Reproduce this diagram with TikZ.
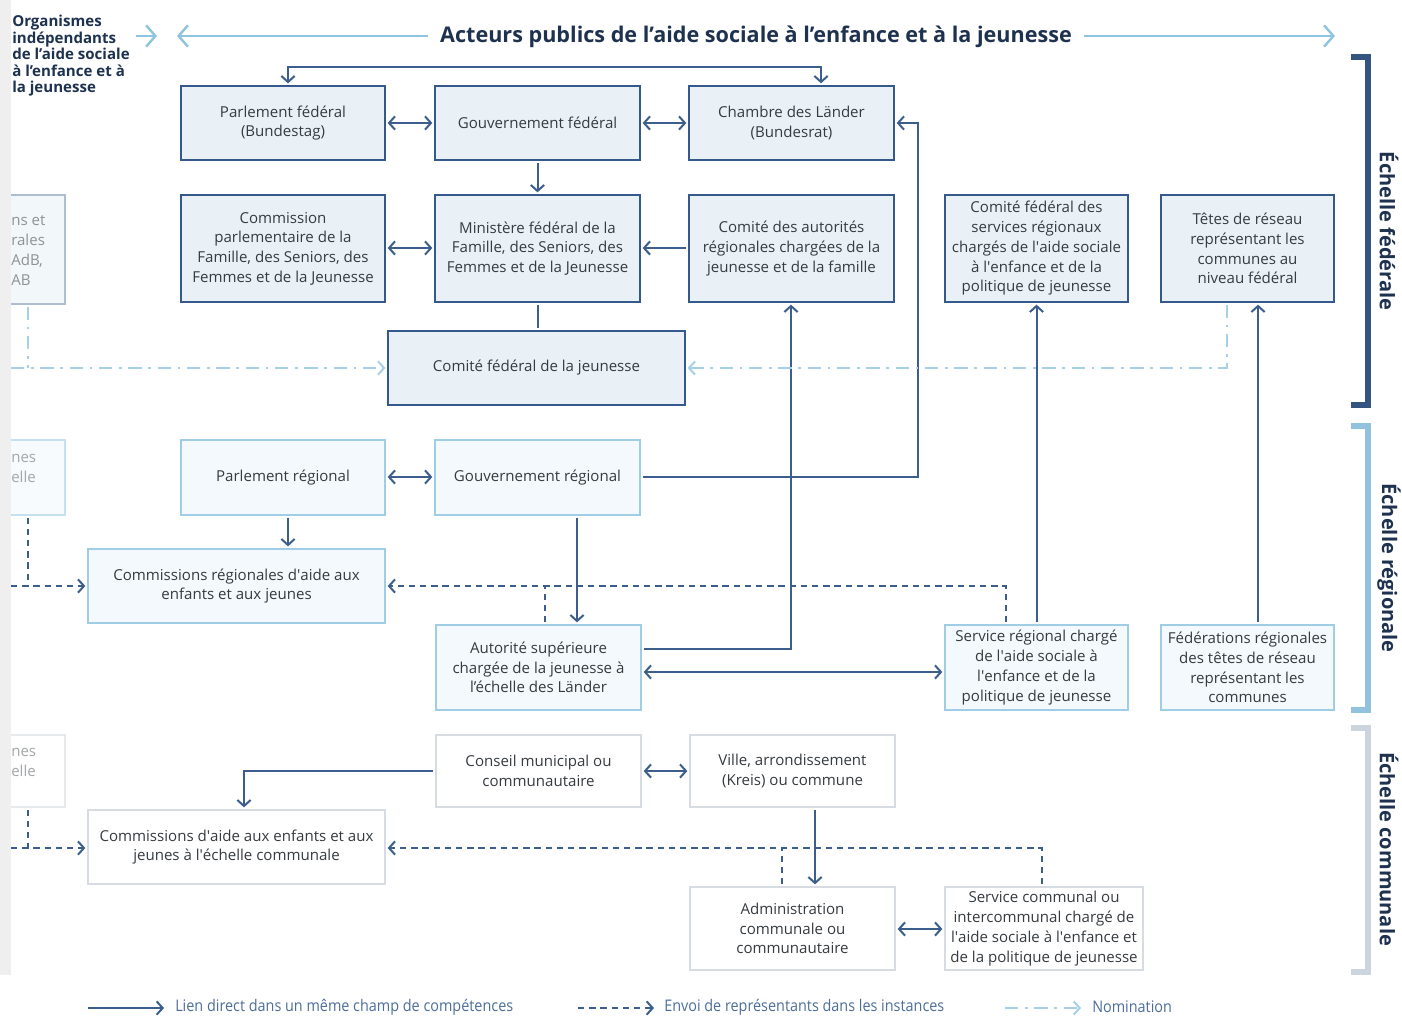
\documentclass[tikz,border=0pt]{standalone}
\usepackage{fontspec}
\setmainfont{Open Sans}
\newfontfamily\condfont[FakeStretch=0.9]{Open Sans}
\usetikzlibrary{arrows.meta,calc}
\definecolor{lineblue}{HTML}{3B5E8C}
\definecolor{fedline}{HTML}{34598A}
\definecolor{fedfill}{HTML}{EAF1F6}
\definecolor{regline}{HTML}{9FCDE6}
\definecolor{regfill}{HTML}{F3F9FD}
\definecolor{comline}{HTML}{D6DCE1}
\definecolor{boxtext}{HTML}{363B40}
\definecolor{titlecol}{HTML}{1E3250}
\definecolor{nomblue}{HTML}{A6D0E6}
\definecolor{hdrblue}{HTML}{8EC4DF}
\definecolor{brfed}{HTML}{34557F}
\definecolor{brreg}{HTML}{92C3DE}
\definecolor{brcom}{HTML}{CCD5DD}
\definecolor{legtext}{HTML}{4D6E99}
\definecolor{stripgray}{HTML}{EFEFEF}
\newcommand\aps{\textquotesingle}
\newcommand\bx[7]{\node[#2, minimum width={(#5-#3)*0.75pt}, minimum height={(#6-#4)*0.75pt}] (#1) at ({(#3+#5)/2},{(#4+#6)/2}) {#7};}
\tikzset{
  box/.style={draw, line width=1.5pt, align=center, inner sep=0pt, outer sep=2pt, text=boxtext, font=\fontsize{11.3}{14.8}\selectfont},
  fed/.style={box, draw=fedline, fill=fedfill},
  reg/.style={box, draw=regline, fill=regfill},
  com/.style={box, draw=comline, fill=white},
  sol/.style={draw=lineblue, line width=1.5pt},
  dsh/.style={draw=lineblue, line width=1.5pt, dash pattern=on 4.8pt off 3.6pt},
  ddot/.style={draw=nomblue, line width=1.5pt, dash pattern=on 10pt off 5pt on 2pt off 5pt},
  hdr/.style={draw=hdrblue, line width=1.8pt, >={Straight Barb[length=7pt,width=16pt]}},
  frag/.style={anchor=west, align=left, inner sep=0pt, font=\fontsize{11.3}{14.8}\selectfont},
  scalelabel/.style={font=\bfseries\fontsize{15}{17}\selectfont, text=titlecol, rotate=-90, inner sep=0pt},
  legtxt/.style={anchor=west, inner sep=0pt, text=legtext, font=\condfont\fontsize{12}{14}\selectfont},
}
\begin{document}
\begin{tikzpicture}[x=0.75pt, y=-0.75pt, >={Straight Barb[length=4.5pt,width=10pt]}]
\useasboundingbox (0,0) rectangle (1402,1017);
\fill[white] (0,0) rectangle (1402,1017);

% header
\node[anchor=north west, align=left, inner sep=0pt, font=\bfseries\fontsize{11.3}{12.4}\selectfont, text=titlecol] (H) at (12,15) {Organismes\\indépendants\\de l’aide sociale\\à l’enfance et à\\la jeunesse};
\node[font=\bfseries\fontsize{16.2}{18}\selectfont, text=titlecol, inner xsep=9pt, inner ysep=0pt] (T) at (756,37) {Acteurs publics de l’aide sociale à l’enfance et à la jeunesse};
\coordinate (ha1) at (136,36);
\coordinate (ha2) at (157,36);
\coordinate (hl) at (177,36);
\coordinate (hr) at (1335,36);
\draw[hdr,->] (ha1) -- (ha2);
\draw[hdr,->] (T.west |- hl) -- (hl);
\draw[hdr,->] (T.east |- hr) -- (hr);

% federal boxes
\bx{PF}{fed}{181}{86}{385}{160}{Parlement fédéral\\(Bundestag)}
\bx{GF}{fed}{435}{86}{640}{160}{Gouvernement fédéral}
\bx{CL}{fed}{689}{86}{894}{160}{Chambre des Länder\\(Bundesrat)}
\bx{CP}{fed}{181}{195}{385}{302}{Commission\\parlementaire de la\\Famille, des Seniors, des\\Femmes et de la Jeunesse}
\bx{MF}{fed}{435}{195}{640}{302}{Ministère fédéral de la\\Famille, des Seniors, des\\Femmes et de la Jeunesse}
\bx{CA}{fed}{689}{195}{894}{302}{Comité des autorités\\régionales chargées de la\\jeunesse et de la famille}
\bx{CFS}{fed}{945}{195}{1128}{302}{Comité fédéral des\\services régionaux\\chargés de l\aps aide sociale\\à l\aps enfance et de la\\politique de jeunesse}
\bx{TR}{fed}{1161}{195}{1334}{302}{Têtes de réseau\\représentant les\\communes au\\niveau fédéral}
\bx{CFJ}{fed}{388}{331}{685}{405}{Comité fédéral de la jeunesse}
\node[box, draw=fedline!40, fill=fedfill!60, minimum width={165*0.75pt}, minimum height={109*0.75pt}] (LB1) at (-17.5,249.5) {};
\node[frag, text=boxtext!55] (LB1t) at (11,250.5) {ns et\\rales\\AdB,\\AB};

% regional boxes
\bx{PR}{reg}{181}{440}{385}{515}{Parlement régional}
\bx{GR}{reg}{435}{440}{640}{515}{Gouvernement régional}
\bx{CR}{reg}{88}{549}{385}{623}{Commissions régionales d\aps aide aux\\enfants et aux jeunes}
\bx{AS}{reg}{436}{625}{641}{710}{Autorité supérieure\\chargée de la jeunesse à\\l’échelle des Länder}
\bx{SR}{reg}{945}{625}{1128}{710}{Service régional chargé\\de l\aps aide sociale à\\l\aps enfance et de la\\politique de jeunesse}
\bx{FR}{reg}{1161}{625}{1334}{710}{Fédérations régionales\\des têtes de réseau\\représentant les\\communes}
\node[box, draw=regline!60, fill=regfill!60, minimum width={165*0.75pt}, minimum height={75*0.75pt}] (LB2) at (-17.5,477.5) {};
\node[frag, text=boxtext!45] (LB2t) at (11,468.5) {nes\\elle};

% communal boxes
\bx{CM}{com}{436}{735}{641}{807}{Conseil municipal ou\\communautaire}
\bx{VA}{com}{690}{735}{895}{807}{Ville, arrondissement\\(Kreis) ou commune}
\bx{CC}{com}{88}{810}{385}{884}{Commissions d\aps aide aux enfants et aux\\jeunes à l\aps échelle communale}
\bx{AC}{com}{690}{887}{895}{970}{Administration\\communale ou\\communautaire}
\bx{SC}{com}{945}{887}{1143}{970}{Service communal ou\\intercommunal chargé de\\l\aps aide sociale à l\aps enfance et\\de la politique de jeunesse}
\node[box, draw=comline!60, fill=white, minimum width={165*0.75pt}, minimum height={72*0.75pt}] (LB3) at (-17.5,771) {};
\node[frag, text=boxtext!45] (LB3t) at (11,762.5) {nes\\elle};

% solid connectors
\coordinate (k1) at (288,67);
\coordinate (k2) at (821,67);
\draw[sol,<->] (PF.north -| k1) -- (k1) -- (k2) -- (CL.north -| k2);
\coordinate (k0) at (400,123);
\draw[sol,<->] (PF.east |- k0) -- (GF.west |- k0);
\draw[sol,<->] (GF.east |- k0) -- (CL.west |- k0);
\draw[sol,->] (GF.south) -- (GF.south |- MF.north);
\coordinate (k00) at (400,248);
\draw[sol,<->] (CP.east |- k00) -- (MF.west |- k00);
\draw[sol,->] (CA.west |- k00) -- (MF.east |- k00);
\draw[sol] (MF.south) -- (MF.south |- CFJ.north);
\coordinate (k3) at (918,477);
\draw[sol,->] (GR.east |- k3) -- (k3) |- (CL.east |- k0);
\draw[sol,<->] (PR.east |- k3) -- (GR.west |- k3);
\coordinate (k4) at (288,530);
\draw[sol,->] (PR.south -| k4) -- (CR.north -| k4);
\coordinate (k5) at (577,560);
\draw[sol,->] (GR.south -| k5) -- (AS.north -| k5);
\coordinate (k6) at (791,649);
\draw[sol,->] (AS.east |- k6) -- (k6) -- (CA.south -| k6);
\coordinate (k7) at (800,672);
\draw[sol,<->] (AS.east |- k7) -- (SR.west |- k7);
\draw[sol,->] (SR.north) -- (CFS.south);
\coordinate (k8) at (1258,500);
\draw[sol,->] (FR.north -| k8) -- (TR.south -| k8);
\coordinate (k9) at (244,771);
\draw[sol,->] (CM.west |- k9) -- (k9) -- (CC.north -| k9);
\draw[sol,<->] (CM.east |- k9) -- (VA.west |- k9);
\coordinate (k10) at (815,850);
\draw[sol,->] (VA.south -| k10) -- (AC.north -| k10);
\coordinate (k11) at (920,929);
\draw[sol,<->] (AC.east |- k11) -- (SC.west |- k11);

% dashed connectors
\coordinate (d1) at (1006,586);
\coordinate (d2) at (545,586);
\draw[dsh,->] (SR.north -| d1) -- (d1) -- (CR.east |- d1);
\draw[dsh] (AS.north -| d2) -- (d2);
\coordinate (d3) at (28,586);
\coordinate (e2) at (11,586);
\draw[dsh,->] (e2) -- (CR.west |- e2);
\draw[dsh] (LB2.south -| d3) -- (d3);
\coordinate (d4) at (1042,848);
\coordinate (d5) at (782,848);
\draw[dsh,->] (SC.north -| d4) -- (d4) -- (CC.east |- d4);
\draw[dsh] (AC.north -| d5) -- (d5);
\coordinate (d6) at (28,848);
\coordinate (e3) at (11,848);
\draw[dsh,->] (e3) -- (CC.west |- e3);
\draw[dsh] (LB3.south -| d6) -- (d6);

% nomination connectors
\coordinate (n1) at (1227,368);
\draw[ddot,->] (TR.south -| n1) -- (n1) -- (CFJ.east |- n1);
\coordinate (n2) at (28,368);
\coordinate (e1) at (11,368);
\draw[ddot,->] (e1) -- (CFJ.west |- e1);
\draw[ddot] (LB1.south -| n2) -- (n2);

% left strip
\fill[stripgray] (0,0) rectangle (11,975);

% scale brackets
\draw[brfed, line width=4.5pt] (1351,57) -- (1368,57) -- (1368,405) -- (1351,405);
\draw[brreg, line width=4.5pt] (1351,426) -- (1368,426) -- (1368,710) -- (1351,710);
\draw[brcom, line width=4.5pt] (1351,728) -- (1368,728) -- (1368,972) -- (1351,972);
\node[scalelabel] (S1) at (1389,231) {Échelle fédérale};
\node[scalelabel] (S2) at (1389,568) {Échelle régionale};
\node[scalelabel] (S3) at (1389,849) {Échelle communale};

% legend
\coordinate (l1a) at (88,1008);
\coordinate (l1b) at (164,1008);
\coordinate (l2a) at (578,1008);
\coordinate (l2b) at (654,1008);
\coordinate (l3a) at (1005,1008);
\coordinate (l3b) at (1081,1008);
\draw[sol,->] (l1a) -- (l1b);
\draw[dsh,->] (l2a) -- (l2b);
\draw[ddot,->] (l3a) -- (l3b);
\node[legtxt] (L1) at (175,1007) {Lien direct dans un même champ de compétences};
\node[legtxt] (L2) at (664,1007) {Envoi de représentants dans les instances};
\node[legtxt] (L3) at (1092,1007) {Nomination};
\end{tikzpicture}
\end{document}
